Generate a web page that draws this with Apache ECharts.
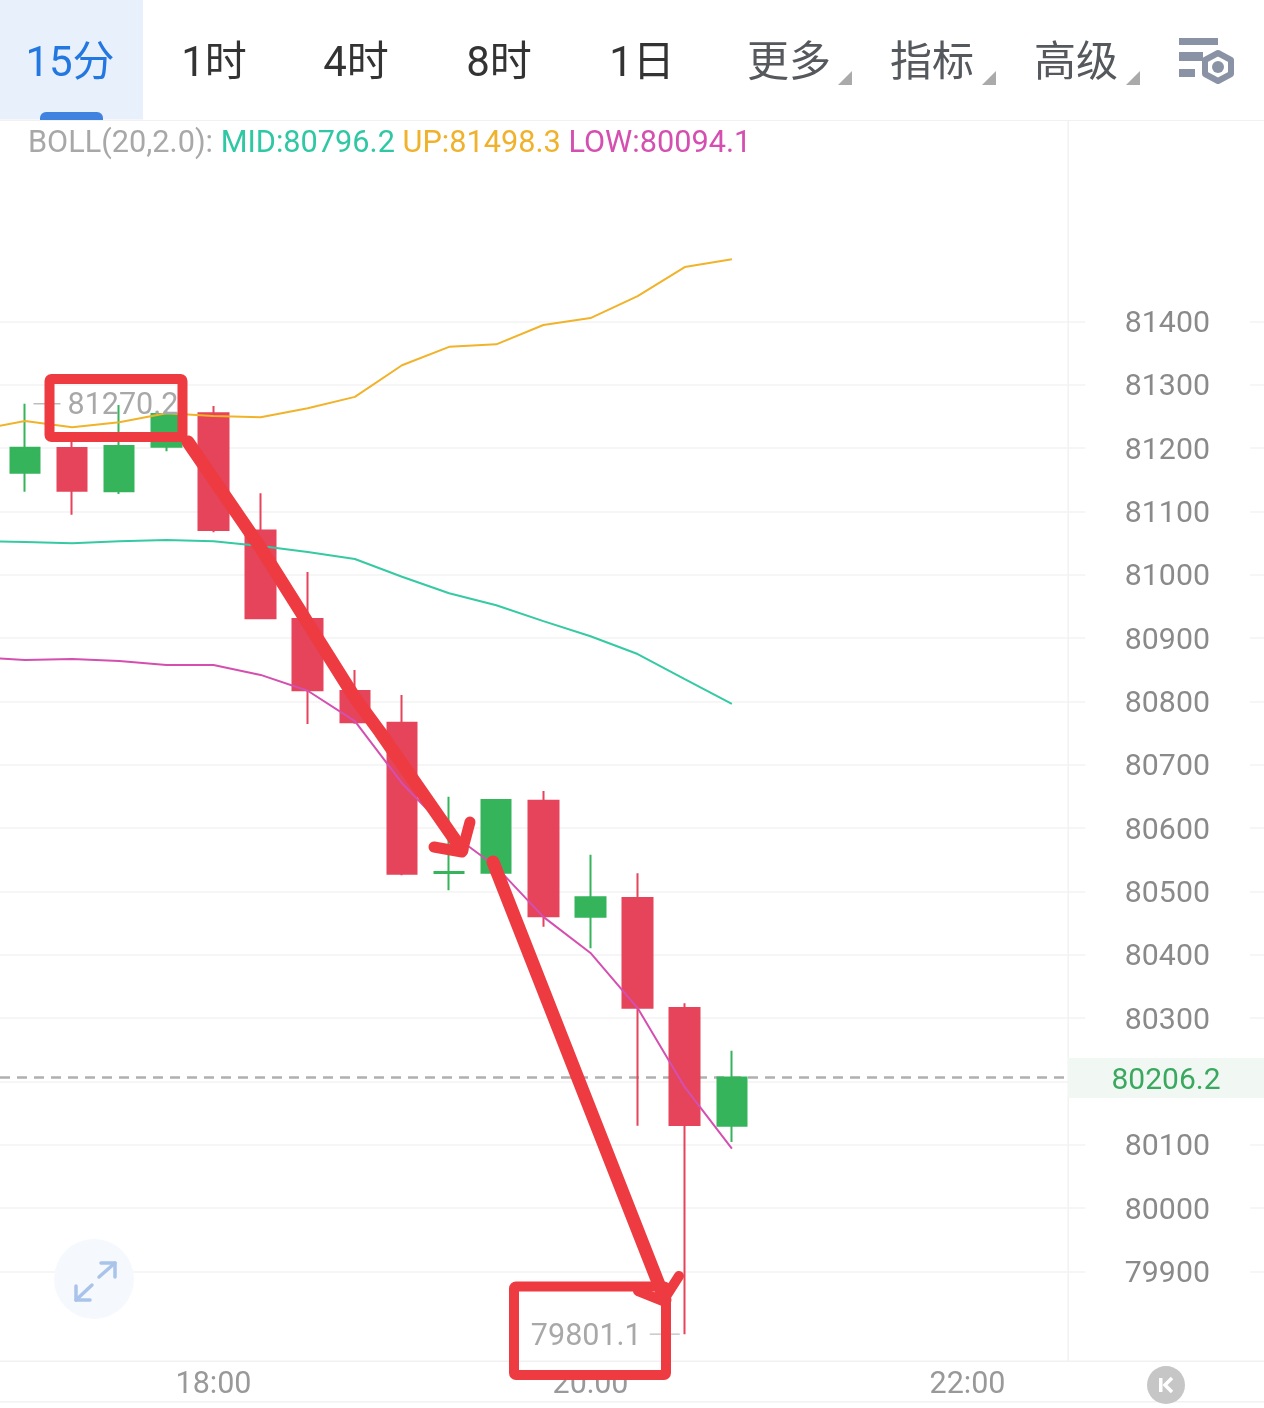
<!DOCTYPE html>
<html>
<head>
<meta charset="utf-8">
<style>html,body{margin:0;padding:0;background:#fff}#c{width:1264px;height:1408px}</style>
<script src="https://cdn.jsdelivr.net/npm/echarts@6/dist/echarts.min.js"></script>
</head>
<body>
<div id="c"></div>
<script>
const categories = ['16:45','17:00','17:15','17:30','17:45','18:00','18:15','18:30','18:45','19:00','19:15','19:30','19:45','20:00','20:15','20:30','20:45','21:00','21:15','21:30','21:45','22:00','22:15','22:30'];
const timeLabels = ['18:00','20:00','22:00'];
const priceTicks = [79900,80000,80100,80200,80300,80400,80500,80600,80700,80800,80900,81000,81100,81200,81300,81400];
const opens  = [null,81161.3,81200.3,81131.9,81202.3,81255.0,81070.0,80930.3,80816.6,80766.6,80529.2,80529.7,80643.4,80460.2,80489.8,80316.1,80130.2];
const closes = [null,81200.7,81132.8,81203.4,81254.0,81070.8,80931.4,80817.7,80767.2,80528.1,80530.8,80644.5,80460.9,80490.9,80316.5,80131.3,80206.2];
const lows   = [null,81131.3,81095.0,81127.6,81195.0,81067.2,80931.0,80764.5,80765.0,80525.6,80502.0,80529.0,80444.4,80410.3,80130.2,79801.1,80104.5];
const highs  = [null,81270.2,81213.0,81268.2,81258.0,81266.6,81128.7,81004.5,80849.8,80810.3,80649.7,80646.0,80658.7,80558.1,80528.8,80323.5,80248.7];
const bollUp  = [81229,81243,81233,81241,81255,81251,81249,81263,81281,81331,81360,81364,81394.5,81405.5,81440,81486,81498.3];
const bollMid = [81053,81052,81050,81053,81055,81053,81045.5,81036,81025,80997,80971,80952,80927,80903,80875,80835.5,80796.2];
const bollLow = [80870,80865.5,80867,80864,80857.6,80857.6,80842,80817,80769,80671,80594,80539,80460,80403,80316,80191,80094.1];
const tabLabels = ['15分','1时','4时','8时','1日'];
const menuLabels = ['更多','指标','高级'];
const lastPrice = 80206.2;
const highLabel = 81270.2;
const lowLabel = 79801.1;
const bollText = ['BOLL(20,2.0):','MID:80796.2','UP:81498.3','LOW:80094.1'];

const FONT = 'Roboto, "Noto Sans CJK SC", sans-serif';
const UP_C = '#35b45b', DOWN_C = '#e5445a', ANNOT = '#ee3b42';
const candleData = categories.slice(0, opens.length).map((c, i) =>
  opens[i] === null ? ['-','-','-','-'] : [opens[i], closes[i], lows[i], highs[i]]);

function txt(x, y, text, color, size, align) {
  return {type:'text', z:20, x, y, style:{text, fill:color, fontSize:size, fontFamily:FONT, align:align||'center', verticalAlign:'middle'}};
}
function stroke(points, width, color) {
  return {type:'polyline', z:30, shape:{points}, style:{stroke:color||ANNOT, lineWidth:width, fill:'none', lineCap:'round', lineJoin:'round'}};
}
const tabX = [70,214,356,499,642], menuX = [789,932,1076], triX = [852,996,1140];
const elements = [
  {type:'rect', z:10, shape:{x:0,y:0,width:143,height:119.5}, style:{fill:'#e7f0fb'}},
  {type:'rect', z:11, shape:{x:40,y:112,width:63,height:8,r:[6,6,0,0]}, style:{fill:'#3f82e0'}},
  {type:'rect', z:10, shape:{x:0,y:120,width:1264,height:1}, style:{fill:'#f1f1f1'}},
  {type:'rect', z:1, shape:{x:1067.5,y:120,width:1.5,height:1241}, style:{fill:'#f2f2f2'}},
  {type:'rect', z:1, shape:{x:0,y:1360.5,width:1264,height:1.5}, style:{fill:'#f1f1f1'}},
  {type:'rect', z:1, shape:{x:0,y:1401,width:1264,height:1.5}, style:{fill:'#f2f2f2'}},
  // last price badge
  {type:'rect', z:10, shape:{x:1068,y:1058,width:196,height:40}, style:{fill:'#f1f8f3'}},
  txt(1166,1081,String(lastPrice),'#3aa85f',30)
];
tabLabels.forEach((t,i)=>elements.push(txt(tabX[i],65,t,i===0?'#2277e0':'#333333',42)));
menuLabels.forEach((t,i)=>{
  elements.push(txt(menuX[i],65,t,'#55585c',42));
  elements.push({type:'polygon',z:20,shape:{points:[[triX[i],71],[triX[i],85],[triX[i]-14,85]]},style:{fill:'#aaaaaa'}});
});
// settings icon
elements.push(
  {type:'rect',z:20,shape:{x:1179,y:38,width:39,height:7},style:{fill:'#8a93a6'}},
  {type:'rect',z:20,shape:{x:1179,y:52,width:24,height:9},style:{fill:'#8a93a6'}},
  {type:'rect',z:20,shape:{x:1179,y:69,width:16,height:8},style:{fill:'#8a93a6'}},
  {type:'polygon',z:20,shape:{points:[[1218,53],[1231,60],[1231,74],[1218,81],[1205,74],[1205,60]]},style:{fill:'#fff',stroke:'#8a93a6',lineWidth:6,lineJoin:'round'}},
  {type:'circle',z:21,shape:{cx:1218,cy:67,r:6},style:{fill:'#8a93a6'}}
);
// expand button
elements.push(
  {type:'circle',z:5,shape:{cx:94,cy:1279,r:40},style:{fill:'#f5f9fe'}},
  stroke([[99,1277],[115,1263]],3.5,'#a9c3ea'),
  stroke([[101,1263],[115,1263],[115,1277]],3.5,'#a9c3ea'),
  stroke([[92,1285],[76,1300]],3.5,'#a9c3ea'),
  stroke([[76,1286],[76,1300],[90,1300]],3.5,'#a9c3ea')
);
// k-line button
elements.push(
  {type:'circle',z:20,shape:{cx:1166,cy:1385,r:19},style:{fill:'#c6c6c6'}},
  {type:'rect',z:21,shape:{x:1159,y:1378,width:3.5,height:14},style:{fill:'#fff'}},
  {type:'polyline',z:21,shape:{points:[[1172,1378],[1165,1385],[1172,1392]]},style:{stroke:'#fff',lineWidth:3.5,fill:'none'}}
);
// hand-drawn annotations
elements.push(
  {type:'rect',z:30,shape:{x:49.5,y:379,width:133,height:58,r:2},style:{fill:'none',stroke:ANNOT,lineWidth:10,lineJoin:'round'}},
  {type:'rect',z:30,shape:{x:514,y:1286.5,width:152,height:88.5,r:2},style:{fill:'none',stroke:ANNOT,lineWidth:10,lineJoin:'round'}},
  stroke([[188,442],[260,547],[355,698],[380,732],[462,850]],13),
  stroke([[434,847],[462,852],[470,822]],11),
  stroke([[493,862],[665,1300]],13),
  stroke([[638,1291],[663,1301],[679,1276]],10)
);

const gridCol = '#f3f3f3';
const richBase = {fontSize:30.7,fontFamily:FONT,fontWeight:'normal'};
const option = {
  animation:false,
  backgroundColor:'#ffffff',
  textStyle:{fontFamily:FONT},
  title:{
    left:28, top:129, padding:0,
    text:'{a|'+bollText[0]+'} {b|'+bollText[1]+'} {c|'+bollText[2]+'} {d|'+bollText[3]+'}',
    textStyle:{fontWeight:'normal',fontSize:30.7,fontFamily:FONT,rich:{
      a:{...richBase,color:'#a8a8a8'},
      b:{...richBase,color:'#30c8a4'},
      c:{...richBase,color:'#f0b22c'},
      d:{...richBase,color:'#d44fb0'}
    }}
  },
  grid:[
    {left:-45.69, top:120, width:1131, height:1241, outerBoundsMode:'none'},
    {left:1250, top:120, width:14, height:1241, outerBoundsMode:'none'}
  ],
  xAxis:[
    {type:'category', gridIndex:0, data:categories, boundaryGap:true,
     axisLine:{show:false}, axisTick:{show:false},
     axisLabel:{color:'#999999',fontSize:30.5,fontFamily:FONT,margin:9,
       interval:(i,v)=>timeLabels.includes(v)}, splitLine:{show:false}},
    {type:'value', gridIndex:1, min:0, max:1, show:false}
  ],
  yAxis:[
    {type:'value', gridIndex:0, position:'right', min:79758.7, max:81718.2, scale:true,
     axisLine:{show:false}, axisTick:{show:false,customValues:priceTicks},
     axisLabel:{color:'#8a8a8a',fontSize:30.3,fontFamily:FONT,margin:39.5,align:'left',verticalAlign:'top',lineHeight:6,customValues:priceTicks,formatter:v=>String(v)},
     splitLine:{show:true,lineStyle:{color:gridCol,width:1.5}}},
    {type:'value', gridIndex:1, min:79758.7, max:81718.2, scale:true,
     axisLine:{show:false}, axisTick:{show:false,customValues:priceTicks},
     axisLabel:{show:false},
     splitLine:{show:true,lineStyle:{color:gridCol,width:1.5}}}
  ],
  series:[
    {type:'candlestick', name:'K', data:candleData, barWidth:30, z:3,
     itemStyle:{color:UP_C,color0:DOWN_C,borderColor:UP_C,borderColor0:DOWN_C,borderWidth:2},
     markLine:{silent:true,symbol:'none',label:{show:false},
       lineStyle:{color:'#b0b0b0',width:2.5,type:[10,7],dashOffset:5.3},data:[{yAxis:lastPrice}],z:2},
     markPoint:{silent:true,data:[
       {coord:['17:00',highLabel],symbol:'rect',symbolSize:[27,1.5],symbolOffset:[22,0],
        itemStyle:{color:'#bdbdbd'},
        label:{show:true,position:'right',distance:7,offset:[0,3],formatter:String(highLabel),color:'#a8a8a8',fontSize:30.5,fontFamily:FONT}},
       {coord:['20:30',lowLabel],symbol:'rect',symbolSize:[30,1.5],symbolOffset:[-20,0],
        itemStyle:{color:'#c8c8c8'},
        label:{show:true,position:'left',distance:8,offset:[0,3],formatter:String(lowLabel),color:'#a8a8a8',fontSize:30.5,fontFamily:FONT}}
     ]}},
    {type:'line',name:'UP',data:bollUp,symbol:'none',z:4,lineStyle:{color:'#f0b32a',width:2}},
    {type:'line',name:'MID',data:bollMid,symbol:'none',z:4,lineStyle:{color:'#35c9a4',width:2}},
    {type:'line',name:'LOW',data:bollLow,symbol:'none',z:4,lineStyle:{color:'#d44fb0',width:2}}
  ],
  graphic:{elements}
};
echarts.init(document.getElementById('c'),null,{renderer:'canvas'}).setOption(option);
</script>
</body>
</html>
